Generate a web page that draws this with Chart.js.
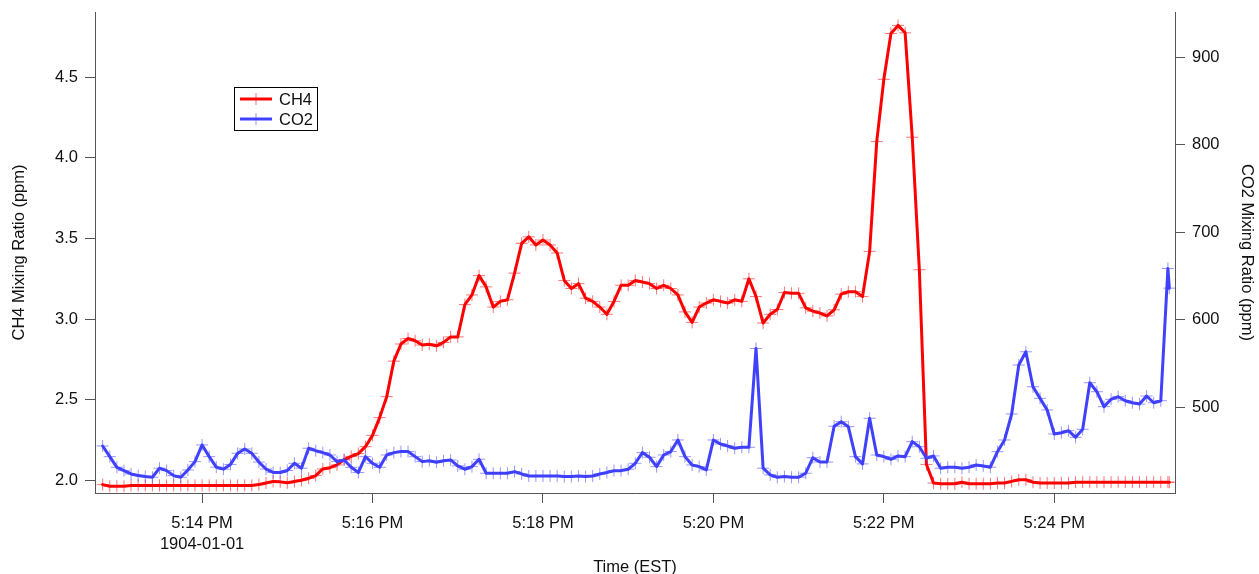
<!DOCTYPE html>
<html>
<head>
<meta charset="utf-8">
<title>CH4 and CO2 mixing ratios</title>
<script src="https://cdn.jsdelivr.net/npm/chart.js@4.4.1/dist/chart.umd.min.js"></script>
<style>
  html, body { margin: 0; padding: 0; background: #ffffff; }
  canvas { display: block; }
</style>
</head>
<body>
<canvas id="mix" width="1259" height="574"></canvas>
<script>
// Sampling clock (seconds since midnight, EST): one reading every 5 s from 5:12:50 PM
const sampleStartSec = 17 * 3600 + 12 * 60 + 50;
const sampleStepSec = 5;
const lastReadingSec = 17 * 3600 + 25 * 60 + 21;   // trailing reading, 1 s after the final 5 s sample
const recordDate = '1904-01-01';

// CH4 mixing ratio (ppm)
const ch4 = [
  1.975, 1.965, 1.965, 1.965, 1.97, 1.97, 1.97, 1.97, 1.97, 1.97,
  1.97, 1.97, 1.97, 1.97, 1.97, 1.97, 1.97, 1.97, 1.97, 1.97,
  1.97, 1.97, 1.975, 1.985, 1.995, 1.992, 1.986, 1.994, 2.002, 2.014,
  2.031, 2.072, 2.08, 2.097, 2.13, 2.15, 2.167, 2.21, 2.28, 2.39,
  2.52, 2.74, 2.846, 2.88, 2.866, 2.84, 2.845, 2.835, 2.856, 2.89,
  2.89, 3.09, 3.15, 3.27, 3.20, 3.075, 3.11, 3.12, 3.285, 3.47,
  3.51, 3.46, 3.49, 3.46, 3.41, 3.24, 3.19, 3.22, 3.13, 3.11,
  3.075, 3.03, 3.11, 3.21, 3.21, 3.24, 3.23, 3.22, 3.19, 3.21,
  3.19, 3.15, 3.045, 2.98, 3.075, 3.10, 3.12, 3.11, 3.10, 3.12,
  3.11, 3.25, 3.14, 2.976, 3.03, 3.06, 3.165, 3.16, 3.16, 3.07,
  3.05, 3.038, 3.02, 3.058, 3.155, 3.17, 3.17, 3.14, 3.42, 4.10,
  4.486, 4.77, 4.82, 4.774, 4.127, 3.306, 2.10, 1.985, 1.98, 1.98,
  1.98, 1.99, 1.98, 1.98, 1.98, 1.98, 1.985, 1.985, 1.995, 2.005,
  2.005, 1.99, 1.985, 1.985, 1.985, 1.985, 1.985, 1.99, 1.99, 1.99,
  1.99, 1.99, 1.99, 1.99, 1.99, 1.99, 1.99, 1.99, 1.99, 1.99,
  1.99, 1.99
];

// CO2 mixing ratio (ppm)
const co2 = [
  455.4, 443.2, 431.0, 427.2, 423.4, 421.5, 420.4, 419.6, 430.0, 427.2,
  421.5, 419.6, 428.0, 437.5, 456.6, 443.2, 431.2, 428.9, 434.3, 447.0,
  452.0, 447.0, 437.0, 429.0, 425.1, 425.0, 427.4, 435.6, 430.0, 452.8,
  450.0, 447.8, 445.1, 437.5, 439.4, 431.0, 425.0, 443.2, 435.6, 431.0,
  445.1, 447.8, 449.0, 449.0, 443.2, 437.5, 438.6, 436.8, 438.6, 439.4,
  432.6, 428.8, 431.8, 440.2, 424.2, 424.2, 424.2, 424.2, 426.1, 423.4,
  421.1, 421.1, 421.1, 421.1, 421.1, 420.4, 420.4, 421.1, 420.4, 421.1,
  423.4, 425.0, 427.2, 427.2, 428.8, 435.6, 447.8, 442.5, 431.8, 445.1,
  449.0, 462.3, 443.2, 433.7, 431.8, 428.0, 462.3, 457.7, 455.4, 452.8,
  453.9, 453.9, 567.0, 430.0, 422.3, 419.6, 420.4, 419.6, 419.6, 424.2,
  442.0, 437.0, 437.0, 478.0, 483.2, 477.5, 443.2, 434.9, 487.1, 445.1,
  443.2, 440.2, 444.0, 443.2, 460.4, 454.6, 441.3, 444.0, 429.9, 431.1,
  431.1, 429.9, 431.1, 433.7, 432.6, 431.1, 448.9, 462.3, 492.0, 548.0,
  563.2, 523.2, 509.9, 496.6, 469.1, 470.6, 472.9, 465.3, 474.5, 527.8,
  517.5, 500.4, 508.8, 511.8, 507.2, 504.9, 503.4, 512.6, 504.9, 507.2,
  658.5, 636.0
];

// Axis ranges and tick spacing
const timeRange = [61964.6, 62725.0];
const timeTickStepSec = 120;
const ch4Range = [1.923, 4.903];
const ch4TickStep = 0.5;
const co2Range = [401.6, 952.0];
const co2TickStep = 100;

// Time stamps for every reading
const stamps = [];
for (let i = 0; i < ch4.length - 1; i++) stamps.push(sampleStartSec + i * sampleStepSec);
stamps.push(lastReadingSec);

const toPoints = (vals) => vals.map((v, i) => ({ x: stamps[i], y: v }));

function clockLabel(sec) {
  const h24 = Math.floor(sec / 3600);
  const m = Math.floor((sec % 3600) / 60);
  const suffix = h24 >= 12 ? 'PM' : 'AM';
  let h = h24 % 12; if (h === 0) h = 12;
  return h + ':' + String(m).padStart(2, '0') + ' ' + suffix;
}

const FONT_FAMILY = '"Liberation Sans", Arial, Helvetica, sans-serif';
const TEXT = '#111111';
const AXIS = '#555555';

// Fixed axis box sizes so the plot frame sits where the layout wants it
function fixWidth(w) {
  return (s) => { s.width = w; s.paddingTop = 0; s.paddingBottom = 0; };
}
function fixHeight(h) {
  return (s) => { s.height = h; s.paddingLeft = 0; s.paddingRight = 0; };
}

// Series key drawn inside the plot
const seriesKey = {
  id: 'seriesKey',
  afterDraw(chart, args, opts) {
    const ctx = chart.ctx;
    const { left, top, width, height, rowHeight, swatch, inset, gap } = opts;
    ctx.save();
    ctx.fillStyle = '#ffffff';
    ctx.fillRect(left, top, width, height);
    ctx.strokeStyle = '#000000';
    ctx.lineWidth = 1;
    ctx.strokeRect(left + 0.5, top + 0.5, width, height);
    chart.data.datasets.forEach((ds, k) => {
      const y = top + 12 + k * rowHeight;
      const x0 = left + inset;
      ctx.strokeStyle = ds.borderColor;
      ctx.lineWidth = ds.borderWidth;
      ctx.lineCap = 'butt';
      ctx.beginPath(); ctx.moveTo(x0, y); ctx.lineTo(x0 + swatch, y); ctx.stroke();
      const cx = x0 + swatch / 2, r = ds.pointRadius;
      ctx.strokeStyle = ds.pointBorderColor;
      ctx.lineWidth = 1;
      ctx.beginPath();
      ctx.moveTo(cx - r, y); ctx.lineTo(cx + r, y);
      ctx.moveTo(cx, y - r); ctx.lineTo(cx, y + r);
      ctx.stroke();
      ctx.fillStyle = TEXT;
      ctx.font = '16.5px ' + FONT_FAMILY;
      ctx.textBaseline = 'middle';
      ctx.textAlign = 'left';
      ctx.fillText(ds.label, x0 + swatch + gap, y + 1);
    });
    ctx.restore();
  }
};

const tickFont = { family: FONT_FAMILY, size: 16.5 };
const titleFont = { family: FONT_FAMILY, size: 16.5, lineHeight: 1.2 };

new Chart(document.getElementById('mix'), {
  type: 'line',
  data: {
    datasets: [
      {
        label: 'CH4',
        data: toPoints(ch4),
        yAxisID: 'yCH4',
        borderColor: '#ff0000',
        borderWidth: 3,
        pointStyle: 'cross',
        pointRadius: 6,
        pointBorderWidth: 1,
        pointBorderColor: 'rgba(255,0,0,0.55)',
        pointBackgroundColor: 'rgba(255,0,0,0.55)',
        borderJoinStyle: 'round',
        borderCapStyle: 'round',
        tension: 0,
        order: 1
      },
      {
        label: 'CO2',
        data: toPoints(co2),
        yAxisID: 'yCO2',
        borderColor: '#4040ff',
        borderWidth: 3,
        pointStyle: 'cross',
        pointRadius: 6,
        pointBorderWidth: 1,
        pointBorderColor: 'rgba(64,64,255,0.55)',
        pointBackgroundColor: 'rgba(64,64,255,0.55)',
        borderJoinStyle: 'round',
        borderCapStyle: 'round',
        tension: 0,
        order: 0
      }
    ]
  },
  options: {
    responsive: false,
    animation: false,
    devicePixelRatio: 1,
    events: [],
    layout: { padding: { top: 12, left: 0, right: 0, bottom: 0 } },
    plugins: {
      legend: { display: false },
      tooltip: { enabled: false },
      seriesKey: { left: 234, top: 87, width: 83, height: 43, rowHeight: 20, swatch: 32, inset: 6, gap: 7 }
    },
    scales: {
      x: {
        type: 'linear',
        position: 'bottom',
        min: timeRange[0],
        max: timeRange[1],
        afterFit: fixHeight(81),
        border: { color: AXIS, width: 1 },
        grid: { drawOnChartArea: false, drawTicks: true, tickLength: 10, color: AXIS },
        ticks: {
          stepSize: timeTickStepSec,
          includeBounds: false,
          autoSkip: false,
          maxRotation: 0,
          padding: 10,
          color: TEXT,
          font: { family: FONT_FAMILY, size: 16.5, lineHeight: '21px' },
          callback: (v, idx) => idx === 0 ? [clockLabel(v), recordDate] : clockLabel(v)
        },
        title: { display: true, text: 'Time (EST)', color: TEXT, font: { family: FONT_FAMILY, size: 16.5, lineHeight: '12.5px' }, padding: { top: 0, bottom: 0 } }
      },
      yCH4: {
        type: 'linear',
        position: 'left',
        min: ch4Range[0],
        max: ch4Range[1],
        afterFit: fixWidth(95),
        border: { color: AXIS, width: 1 },
        grid: { drawOnChartArea: false, drawTicks: true, tickLength: 10, color: AXIS },
        ticks: {
          stepSize: ch4TickStep,
          includeBounds: false,
          padding: 7,
          color: TEXT,
          font: tickFont,
          callback: (v) => v.toFixed(1)
        },
        title: { display: true, text: 'CH4 Mixing Ratio (ppm)', color: TEXT, font: titleFont, padding: { top: 10, bottom: 0 } }
      },
      yCO2: {
        type: 'linear',
        position: 'right',
        min: co2Range[0],
        max: co2Range[1],
        afterFit: fixWidth(84),
        border: { color: AXIS, width: 1 },
        grid: { drawOnChartArea: false, drawTicks: true, tickLength: 10, color: AXIS },
        ticks: {
          stepSize: co2TickStep,
          includeBounds: false,
          padding: 7,
          color: TEXT,
          font: tickFont,
          callback: (v) => String(Math.round(v))
        },
        title: { display: true, text: 'CO2 Mixing Ratio (ppm)', color: TEXT, font: titleFont, padding: { top: 3, bottom: 0 } }
      }
    }
  },
  plugins: [seriesKey]
});
</script>
</body>
</html>
